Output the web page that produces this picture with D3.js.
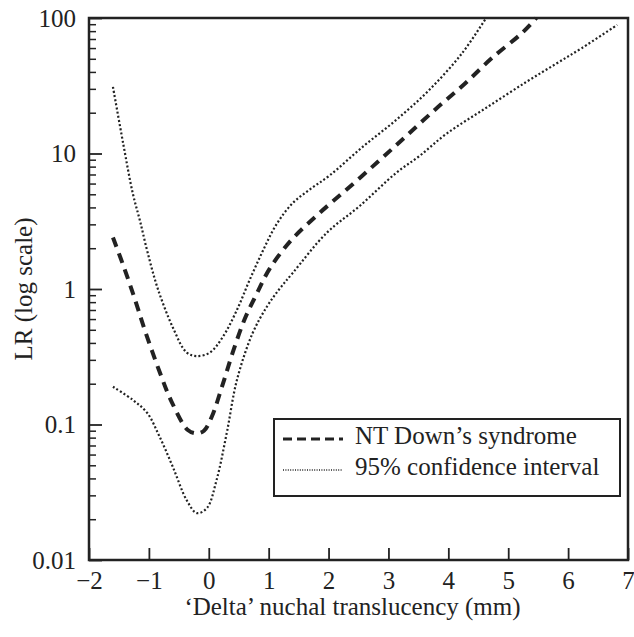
<!DOCTYPE html>
<html lang="en">
<head>
<meta charset="UTF-8">
<title>LR vs delta NT</title>
<script src="https://d3js.org/d3.v7.min.js"></script>
<style>
  body { margin: 0; background: #fff; }
</style>
</head>
<body>
<svg width="634" height="637"></svg>
<script>
// values
const xTicks = [-2, -1, 0, 1, 2, 3, 4, 5, 6, 7];
const yTicks = [0.01, 0.1, 1, 10, 100];
const yTickLabels = ["0.01", "0.1", "1", "10", "100"];

const centerX = [-1.6, -1.4, -1.23, -1.07, -0.82, -0.62, -0.35, -0.2, -0.08, 0.05, 0.23, 0.4, 0.6, 0.8, 1.02, 1.38, 1.85, 2.35, 2.85, 3.3, 3.8, 4.27, 4.73, 5.23, 5.47];
const centerLR = [2.4, 1.38, 0.83, 0.5, 0.244, 0.147, 0.091, 0.086, 0.09, 0.114, 0.196, 0.34, 0.6, 0.92, 1.42, 2.3, 3.64, 5.66, 8.9, 13.5, 21.5, 32.6, 50.7, 77.5, 100];

const upperX = [-1.6, -1.43, -1.27, -1.15, -1.02, -0.85, -0.6, -0.37, -0.2, 0.02, 0.23, 0.47, 0.68, 0.9, 1.13, 1.4, 1.68, 2.02, 2.57, 3.13, 3.68, 4.23, 4.63];
const upperLR = [31, 11.9, 5.1, 3.2, 1.85, 1.0, 0.52, 0.34, 0.32, 0.34, 0.44, 0.70, 1.16, 1.9, 3.0, 4.3, 5.4, 6.9, 11.2, 17.7, 29.4, 55, 100];

const lowerX = [-1.6, -1.27, -1.03, -0.82, -0.6, -0.37, -0.2, -0.03, 0.13, 0.3, 0.47, 0.73, 0.97, 1.18, 1.4, 1.97, 2.52, 3.13, 3.52, 3.97, 4.63, 5.3, 5.8, 6.23, 6.82];
const lowerLR = [0.19, 0.152, 0.122, 0.081, 0.0486, 0.0277, 0.0222, 0.0242, 0.0389, 0.0865, 0.213, 0.47, 0.74, 1.0, 1.31, 2.6, 4.1, 7.2, 9.6, 14, 21.7, 33.7, 46, 60, 89];

const legendLabels = ["NT Down\u2019s syndrome", "95% confidence interval"];

const svg = d3.select("svg"),
      margin = {top: 18, right: 6, bottom: 77, left: 89},
      width = +svg.attr("width") - margin.left - margin.right,
      height = +svg.attr("height") - margin.top - margin.bottom;

const g = svg.append("g")
    .attr("transform", `translate(${margin.left},${margin.top})`);

const x = d3.scaleLinear().domain([-2, 7]).range([0, width]);
const y = d3.scaleLog().domain([0.01, 100]).range([height, 0]);

// minor ticks on the log axis
const minorTicks = [];
[0.01, 0.1, 1, 10].forEach(d => {
    for (let k = 2; k <= 9; k++) minorTicks.push(d * k);
});

const ink = "#222";
const serifText = sel => sel
    .style("font-family", "'Liberation Serif'")
    .style("font-size", "25px")
    .style("fill", ink);

// y axis, ticks pointing inward
g.append("g")
    .attr("class", "y axis")
    .call(d3.axisLeft(y).tickValues(minorTicks).tickSize(-7).tickFormat(""))
    .call(a => a.select(".domain").remove())
    .call(a => a.selectAll("line").attr("stroke", ink).attr("stroke-width", 1.5));

g.append("g")
    .attr("class", "y axis")
    .call(d3.axisLeft(y).tickValues(yTicks).tickSize(-13).tickPadding(13)
        .tickFormat((d, i) => yTickLabels[i]))
    .call(a => a.select(".domain").remove())
    .call(a => a.selectAll("line").attr("stroke", ink).attr("stroke-width", 1.8))
    .call(a => a.selectAll("text").call(serifText));

// x axis
g.append("g")
    .attr("class", "x axis")
    .attr("transform", `translate(0,${height})`)
    .call(d3.axisBottom(x).tickValues(xTicks).tickSize(-12).tickPadding(11)
        .tickFormat(d => d < 0 ? "\u2212" + Math.abs(d) : d))
    .call(a => a.select(".domain").remove())
    .call(a => a.selectAll("line").attr("stroke", ink).attr("stroke-width", 1.8))
    .call(a => a.selectAll("text").call(serifText));

// frame
g.append("rect")
    .attr("x", 0).attr("y", 0)
    .attr("width", width).attr("height", height)
    .attr("fill", "none")
    .attr("stroke", ink)
    .attr("stroke-width", 2.5);

const line = d3.line()
    .x(d => x(d[0]))
    .y(d => y(d[1]))
    .curve(d3.curveCatmullRom.alpha(0.5));

const zip = (a, b) => a.map((v, i) => [v, b[i]]);

[zip(upperX, upperLR), zip(lowerX, lowerLR)].forEach(pts => {
    g.append("path")
        .datum(pts)
        .attr("fill", "none")
        .attr("stroke", ink)
        .attr("stroke-width", 2.2)
        .attr("stroke-dasharray", "2,2.2")
        .attr("d", line);
});

g.append("path")
    .datum(zip(centerX, centerLR))
    .attr("fill", "none")
    .attr("stroke", ink)
    .attr("stroke-width", 4)
    .attr("stroke-dasharray", "10,7")
    .attr("d", line);

// legend
const legend = svg.append("g").attr("transform", "translate(274,419)");
legend.append("rect")
    .attr("width", 346).attr("height", 77)
    .attr("fill", "#fff")
    .attr("stroke", ink)
    .attr("stroke-width", 2);

legend.append("line")
    .attr("x1", 9).attr("x2", 69).attr("y1", 20).attr("y2", 20)
    .attr("stroke", ink).attr("stroke-width", 3.2)
    .attr("stroke-dasharray", "9,5");
legend.append("line")
    .attr("x1", 9).attr("x2", 69).attr("y1", 51).attr("y2", 51)
    .attr("stroke", ink).attr("stroke-width", 1.4)
    .attr("stroke-dasharray", "1,1.4");

legend.selectAll("text.lab")
    .data(legendLabels)
    .enter().append("text")
    .attr("class", "lab")
    .attr("x", 81)
    .attr("y", (d, i) => 25 + i * 31)
    .call(serifText)
    .text(d => d);

// axis titles
svg.append("text")
    .attr("x", margin.left + width / 2 - 6)
    .attr("y", 615)
    .attr("text-anchor", "middle")
    .call(serifText)
    .text("\u2018Delta\u2019 nuchal translucency (mm)");

svg.append("text")
    .attr("transform", `translate(32,${margin.top + height / 2}) rotate(-90)`)
    .attr("text-anchor", "middle")
    .call(serifText)
    .text("LR (log scale)");
</script>
</body>
</html>
